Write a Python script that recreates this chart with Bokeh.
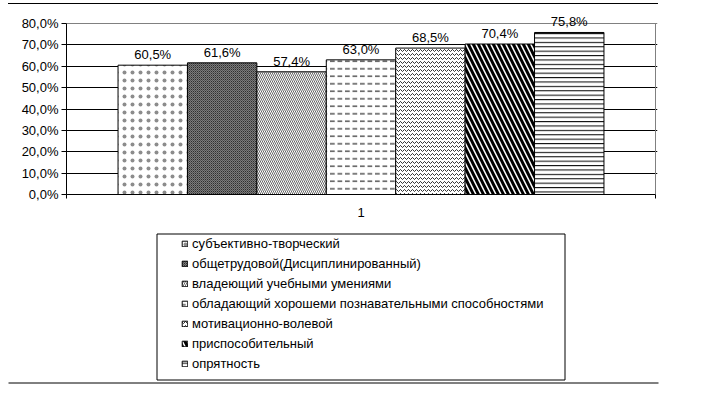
from bokeh.plotting import figure
from bokeh.layouts import column
from bokeh.models import Range1d, FixedTicker, Legend, LegendItem, ColumnDataSource, Grid, Spacer
from bokeh.embed import file_html
from bokeh.resources import INLINE
from bokeh.core.properties import value

# ---- data ----
categories = [
    "субъективно-творческий",
    "общетрудовой(Дисциплинированный)",
    "владеющий учебными умениями",
    "обладающий хорошеми познавательными способностями",
    "мотивационно-волевой",
    "приспособительный",
    "опрятность",
]
values = [60.5, 61.6, 57.4, 63.0, 68.5, 70.4, 75.8]
y_ticks = [0, 10, 20, 30, 40, 50, 60, 70, 80]
y_tick_labels = ["0,0%", "10,0%", "20,0%", "30,0%", "40,0%", "50,0%", "60,0%", "70,0%", "80,0%"]
x_group_label = "1"

# ---- styles ----
styles = [
    dict(fill_color="white", hatch_pattern="dot", hatch_scale=8, hatch_weight=0.4, hatch_alpha=0.45),
    dict(fill_color="#7c7c7c", hatch_pattern="diagonal_cross", hatch_scale=2, hatch_weight=0.4),
    dict(fill_color="white", hatch_pattern="left_diagonal_line", hatch_scale=4, hatch_weight=0.6),
    dict(fill_color="white", hatch_pattern="horizontal_dash", hatch_scale=7.5, hatch_weight=1),
    dict(fill_color="white", hatch_pattern="horizontal_wave", hatch_scale=4, hatch_weight=0.8),
    dict(fill_color="white", hatch_pattern="left_diagonal_line", hatch_scale=10, hatch_weight=3),
    dict(fill_color="white", hatch_pattern="horizontal_line", hatch_scale=4.4, hatch_weight=1),
]
FONT = "Liberation Sans"
W = 720

n = len(values)
group_fill = 0.825
bar_w = group_fill / n
xs = [0.5 + (i - (n - 1) / 2) * bar_w for i in range(n)]
labels = [f"{v:.1f}%".replace(".", ",") for v in values]

# ---- top page rule ----
top = Spacer(width=650, height=1, margin=(3, 0, 0, 8), styles={"background-color": "black"})

# ---- chart ----
CH = 224                 # chart figure height (page y 4 .. 228)
frame_left = 66
frame_w = 589
frame_bottom_local = 190  # page y 194
y_px_per_unit = 171 / 80
y_top = 80 + (frame_bottom_local - 80 * y_px_per_unit) / y_px_per_unit
x_end = 1 + 2 / frame_w
p = figure(width=W, height=CH, x_range=Range1d(0, x_end), y_range=Range1d(0, y_top),
           output_backend="svg", toolbar_location=None, frame_align=False,
           min_border_left=frame_left, min_border_right=W - frame_left - frame_w - 2,
           min_border_top=0, min_border_bottom=CH - frame_bottom_local)
p.background_fill_color = "white"
p.border_fill_color = "white"
p.outline_line_color = None

p.xgrid.visible = False
p.ygrid.ticker = FixedTicker(ticks=y_ticks[1:-1])
p.ygrid.grid_line_color = "black"
p.ygrid.grid_line_width = 1
p.add_layout(Grid(dimension=1, ticker=FixedTicker(ticks=[y_ticks[-1]]),
                  grid_line_color="#808080", grid_line_width=1))

p.yaxis.ticker = FixedTicker(ticks=y_ticks)
p.yaxis.bounds = (y_ticks[0], y_ticks[-1])
p.yaxis.major_label_overrides = {t: l for t, l in zip(y_ticks, y_tick_labels)}
p.yaxis.major_tick_out = 5
p.yaxis.major_tick_in = 0
p.yaxis.minor_tick_line_color = None
p.yaxis.major_label_standoff = 3
p.yaxis.axis_line_color = "black"
p.yaxis.major_label_text_font = FONT
p.yaxis.major_label_text_font_size = "13px"
p.yaxis.major_label_text_color = "black"

p.xaxis.ticker = FixedTicker(ticks=[0.5], minor_ticks=[0, 1])
p.xaxis.bounds = (0, 1)
p.xaxis.major_label_overrides = {0.5: x_group_label}
p.xaxis.major_tick_out = 0
p.xaxis.major_tick_in = 0
p.xaxis.minor_tick_out = 4
p.xaxis.minor_tick_in = 0
p.xaxis.minor_tick_line_color = "black"
p.xaxis.major_label_standoff = 9
p.xaxis.axis_line_color = "black"
p.xaxis.major_label_text_font = FONT
p.xaxis.major_label_text_font_size = "13px"
p.xaxis.major_label_text_color = "black"

# right border of plot area (grey)
p.segment(x0=[1], y0=[y_ticks[0]], x1=[1], y1=[y_ticks[-1]], line_color="#808080", line_width=1)

for i in range(n):
    p.vbar(x=[xs[i]], top=[values[i]], bottom=0, width=bar_w,
           line_color="black", line_width=1, hatch_color="black", **styles[i])

src = ColumnDataSource(dict(x=xs, y=values, t=labels))
p.text(x="x", y="y", text="t", source=src, text_align="center", text_baseline="bottom",
       y_offset=-3, text_font=value(FONT), text_font_size="13px", text_color="black")

# ---- legend panel (page coordinates: x 0..W, y 228..388) ----
LY0, LY1 = 228, 388
lg = figure(width=W, height=LY1 - LY0, x_range=Range1d(0, W), y_range=Range1d(LY1, LY0),
            x_axis_type=None, y_axis_type=None, output_backend="svg", toolbar_location=None,
            min_border=0, frame_align=False)
lg.outline_line_color = None
lg.background_fill_color = "white"
lg.border_fill_color = "white"
lg.quad(left=[156.5], right=[564.5], top=[233.5], bottom=[379.5],
        fill_color=None, line_color="black", line_width=1)
lg.segment(x0=[8], y0=[382.5], x1=[658], y1=[382.5], line_color="black", line_width=1)

items = []
for i in range(n):
    r = lg.vbar(x=[xs[i]], top=[values[i]], bottom=0, width=bar_w, line_color="black",
                line_width=1, hatch_color="black", visible=False, **styles[i])
    items.append(LegendItem(label=categories[i], renderers=[r]))

legend = Legend(items=items, location=(181, LY1 - 371), margin=0, padding=0,
                border_line_color=None, background_fill_alpha=0,
                glyph_width=7, glyph_height=7, label_height=14, spacing=5,
                label_standoff=4, label_text_font=FONT, label_text_font_size="13px",
                label_text_color="black")
lg.add_layout(legend, "center")

layout = column(top, p, lg, spacing=0)
open("out.html", "w").write(file_html(layout, INLINE))
